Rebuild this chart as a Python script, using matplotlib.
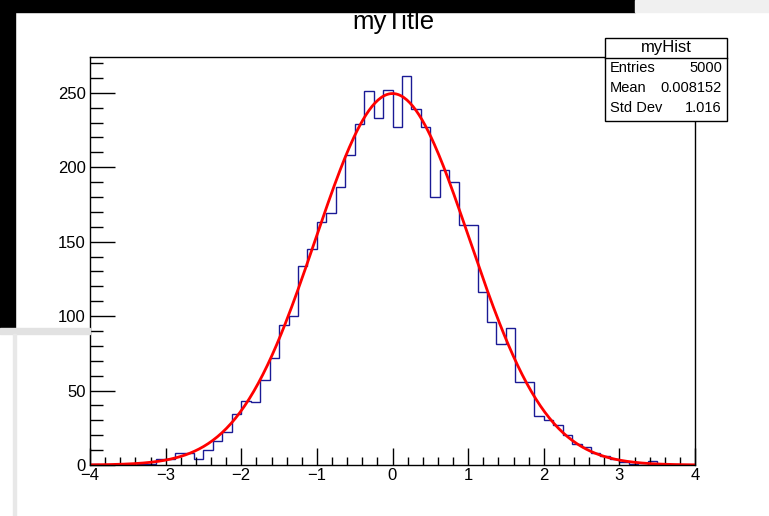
import numpy as np
import matplotlib.pyplot as plt
from matplotlib.patches import Rectangle
from matplotlib.ticker import MultipleLocator

plt.rcParams['font.family'] = ['Liberation Sans', 'DejaVu Sans']

# histogram: 64 bins on [-4, 4]
x_lo, x_hi, n_bins = -4.0, 4.0, 64
counts = [1, 0, 0, 0, 0, 1, 1, 4, 4, 8, 8, 4, 10, 16, 22, 34,
          43, 42, 57, 72, 94, 100, 134, 145, 163, 169, 187, 208, 229, 251, 233, 252,
          227, 261, 239, 227, 180, 198, 190, 161, 161, 116, 96, 81, 92, 56, 56, 33,
          30, 27, 20, 14, 12, 8, 6, 4, 2, 1, 0, 3, 0, 0, 0, 0]

# gaussian fit parameters
fit_const = 249.5
fit_mean = 0.0
fit_sigma = 1.02

# stats box
stat_names = ['Entries', 'Mean', 'Std Dev']
stat_values = ['5000', '0.008152', '1.016']

fig = plt.figure(figsize=(7.69, 5.16), dpi=100)
W, H = 769, 516

# screenshot surroundings
fig.patches.append(Rectangle((0, 1 - 12 / H), 635 / W, 12 / H, transform=fig.transFigure, color='black'))
fig.patches.append(Rectangle((0, 1 - 328 / H), 15 / W, 328 / H, transform=fig.transFigure, color='black'))
fig.patches.append(Rectangle((0, 1 - 334 / H), 90 / W, 6 / H, transform=fig.transFigure, color='#e2e2e2'))
fig.patches.append(Rectangle((13 / W, 0), 3 / W, 1 - 334 / H, transform=fig.transFigure, color='#e8e8e8'))
fig.patches.append(Rectangle((635 / W, 1 - 12 / H), 1 - 635 / W, 12 / H, transform=fig.transFigure, color='#f0f0f0'))

ax = fig.add_axes([90 / W, (H - 465) / H, 605 / W, 408 / H])

edges = np.linspace(x_lo, x_hi, n_bins + 1)
ax.stairs(counts, edges, baseline=0, color='#1a1a95', linewidth=1.0)

xs = np.linspace(x_lo, x_hi, 400)
ax.plot(xs, fit_const * np.exp(-0.5 * ((xs - fit_mean) / fit_sigma) ** 2), color='red', linewidth=2)

ax.set_xlim(x_lo, x_hi)
ax.set_ylim(0, 1.05 * max(counts))

ax.xaxis.set_major_locator(MultipleLocator(1))
ax.xaxis.set_minor_locator(MultipleLocator(0.2))
ax.yaxis.set_major_locator(MultipleLocator(50))
ax.yaxis.set_minor_locator(MultipleLocator(10))
ax.tick_params(which='both', direction='in', top=False, right=False, width=1, color='black', labelsize=12)
ax.tick_params(axis='x', which='major', length=12, pad=2)
ax.tick_params(axis='x', which='minor', length=6)
ax.tick_params(axis='y', which='major', length=18, pad=3)
ax.tick_params(axis='y', which='minor', length=9)
for s in ax.spines.values():
    s.set_linewidth(1)

fig.text(393 / W, 1 - 22 / H, 'myTitle', ha='center', va='center', fontsize=18.5)

# stats box
bx0, bx1, by0, by1 = 605, 727, 38, 121
fig.patches.append(Rectangle((bx0 / W, 1 - by1 / H), (bx1 - bx0) / W, (by1 - by0) / H,
                             transform=fig.transFigure, facecolor='white', edgecolor='black', linewidth=1, zorder=5))
fig.add_artist(plt.Line2D([bx0 / W, bx1 / W], [1 - 58 / H, 1 - 58 / H], color='black', linewidth=1, zorder=6))
fig.text((bx0 + bx1) / 2 / W, 1 - 47.5 / H, 'myHist', ha='center', va='center', fontsize=12, zorder=7)
for i, (nm, val) in enumerate(zip(stat_names, stat_values)):
    yy = 1 - (68 + 20 * i) / H
    fig.text((bx0 + 5) / W, yy, nm, ha='left', va='center', fontsize=10.5, zorder=7)
    fig.text((bx1 - 5) / W, yy, val, ha='right', va='center', fontsize=10.5, zorder=7)

fig.savefig('out.png', dpi=100)
